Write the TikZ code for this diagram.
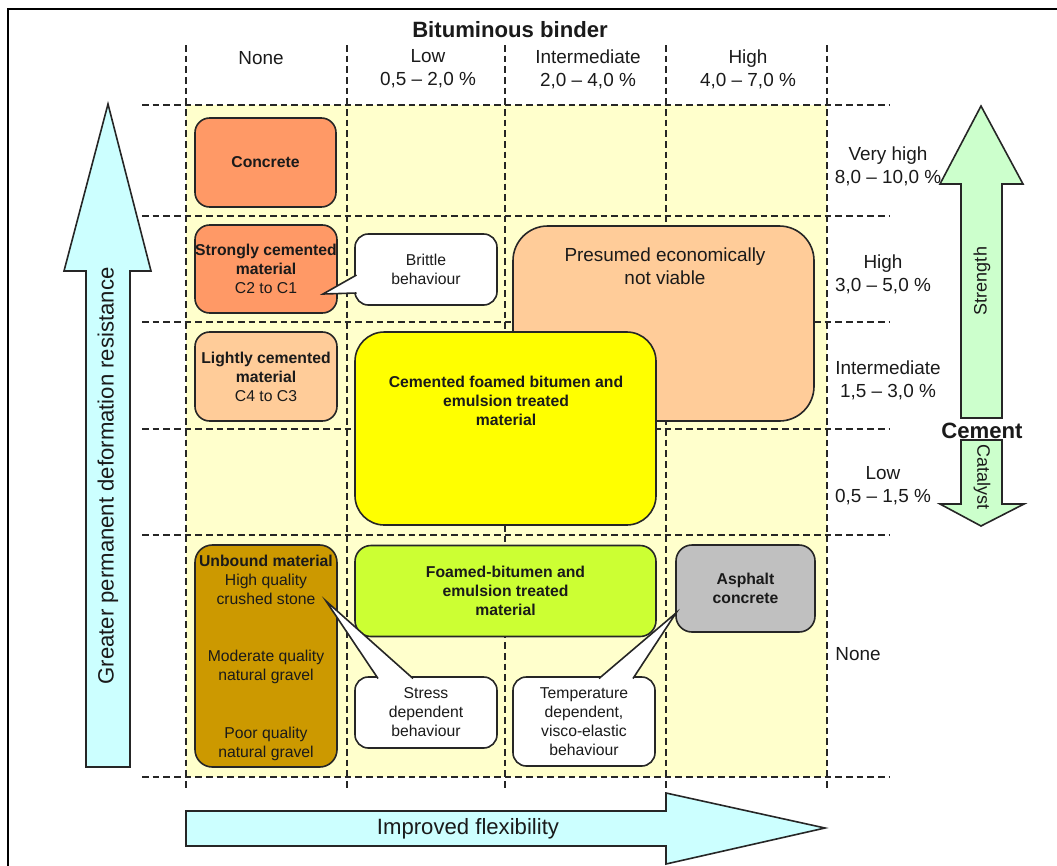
\documentclass[tikz,border=0pt]{standalone}
\usepackage{fontspec}
\setmainfont{Liberation Sans}
\definecolor{bgyellow}{HTML}{FFFFCC}
\definecolor{corange}{HTML}{FF9966}
\definecolor{cpeach}{HTML}{FFCC99}
\definecolor{cyellow}{HTML}{FFFF00}
\definecolor{clime}{HTML}{CCFF33}
\definecolor{cbrown}{HTML}{CC9900}
\definecolor{cgrey}{HTML}{C0C0C0}
\definecolor{ccyan}{HTML}{CCFFFF}
\definecolor{cgreen}{HTML}{CCFFCC}
\definecolor{txt}{HTML}{1A1A1A}
\begin{document}
\begin{tikzpicture}[x=0.75pt,y=-0.75pt,
  gridline/.style={line width=1.1pt, dash pattern=on 5pt off 3pt, black!85},
  mbox/.style 2 args={draw=black!85, line width=1.2pt, minimum width=#1*0.75pt, minimum height=#2*0.75pt, inner sep=0pt, align=center, text=txt, font=\fontsize{11.8}{14.3}\selectfont},
  lbl/.style={align=center, inner sep=0pt, text=txt, font=\fontsize{14.2}{17.25}\selectfont},
  btxt/.style={align=center, inner sep=0pt, text=txt, font=\bfseries\fontsize{11.8}{14.3}\selectfont},
  stxt/.style={align=center, inner sep=0pt, text=txt, font=\fontsize{11.8}{14.3}\selectfont},
  bigtxt/.style={inner sep=0pt, text=txt, font=\fontsize{16.6}{19}\selectfont},
  arrowshape/.style={draw=black!85, line width=1.2pt, line join=miter},
  tail/.style={draw=black!85, line width=1.2pt, fill=white, line join=miter}
]
\useasboundingbox (0,0) rectangle (1057,865);
% frame
\draw[line width=1.6pt] (8,870) -- (8,9) -- (1062,9);
% background and grid
\fill[bgyellow] (186,105) rectangle (827,777);
\foreach \x in {186,347,505,666,827} \draw[gridline] (\x,45) -- (\x,790);
\foreach \y in {105,216,322,429,535,777} \draw[gridline] (142,\y) -- (890,\y);

% headers
\node[bigtxt, font=\bfseries\fontsize{16.6}{19}\selectfont] (title) at (510,30) {Bituminous binder};
\node[lbl] (hnone) at (261,58) {None};
\node[lbl] (hlow) at (428,69) {Low\\0,5 -- 2,0 \%};
\node[lbl] (hint) at (588,69) {Intermediate\\2,0 -- 4,0 \%};
\node[lbl] (hhigh) at (748,69) {High\\4,0 -- 7,0 \%};

% right labels
\node[lbl] (rvh) at (888,166) {Very high\\8,0 -- 10,0 \%};
\node[lbl] (rh) at (883,274) {High\\3,0 -- 5,0 \%};
\node[lbl] (ri) at (888,380) {Intermediate\\1,5 -- 3,0 \%};
\node[lbl] (rl) at (883,486) {Low\\0,5 -- 1,5 \%};
\node[lbl] (rn) at (858,654) {None};

% boxes
\node[mbox={301}{195}, fill=cpeach, rounded corners=26pt] (presumed) at (663.5,323.5) {};
\node[lbl] (presumedT) at (665,266) {Presumed economically\\not viable};
\node[mbox={301}{193}, fill=cyellow, rounded corners=22pt] (cemfoam) at (505.5,428.5) {};
\node[btxt] (cemfoamT) at (506,401) {Cemented foamed bitumen and\\emulsion treated\\material};
\node[mbox={141}{89}, fill=corange, rounded corners=11pt] (concrete) at (265.5,162.5) {\bfseries Concrete};
\node[mbox={142}{88}, fill=corange, rounded corners=11pt] (strong) at (266,269) {\textbf{Strongly cemented}\\\textbf{material}\\C2 to C1};
\node[mbox={142}{89}, fill=cpeach, rounded corners=11pt] (light) at (266,376.5) {\textbf{Lightly cemented}\\\textbf{material}\\C4 to C3};
\node[mbox={142}{222}, fill=cbrown, rounded corners=13pt] (unbound) at (266,656) {};
\node[btxt] (unboundT) at (266,561) {Unbound material};
\node[stxt] (unb1) at (266,589.5) {High quality\\crushed stone};
\node[stxt] (unb2) at (266,667) {Moderate quality\\natural gravel};
\node[stxt] (unb3) at (266,743.5) {Poor quality\\natural gravel};
\node[mbox={301}{91}, fill=clime, rounded corners=12pt] (foamed) at (505.5,591) {\bfseries Foamed-bitumen and\\\bfseries emulsion treated\\\bfseries material};
\node[mbox={139}{87}, fill=cgrey, rounded corners=12pt] (asphalt) at (745.5,588.5) {\bfseries Asphalt\\\bfseries concrete};

% callouts
\node[mbox={142}{71}, fill=white, rounded corners=10pt] (brittle) at (426,269.5) {Brittle\\behaviour};
\draw[tail] (356.5,275) -- (323,294) -- (356.5,293);
\node[mbox={142}{71}, fill=white, rounded corners=10pt] (stress) at (426,712.5) {Stress\\dependent\\behaviour};
\draw[tail] (378,678.5) -- (326,601) -- (413,678.5);
\node[mbox={142}{89}, fill=white, rounded corners=10pt] (temp) at (584,721.5) {Temperature\\dependent,\\visco-elastic\\behaviour};
\draw[tail] (599,678.5) -- (676,613) -- (633,678.5);

% left arrow
\draw[arrowshape, fill=ccyan] (86,767) -- (86,271) -- (64,271) -- (108,104) -- (151,271) -- (130,271) -- (130,767) -- cycle;
\node[bigtxt, rotate=90] (gpdr) at (108,476) {Greater permanent deformation resistance};

% bottom arrow
\draw[arrowshape, fill=ccyan] (186,811) -- (666,811) -- (666,793) -- (825,828) -- (666,864) -- (666,846) -- (186,846) -- cycle;
\node[bigtxt] (flex) at (468,829) {Improved flexibility};

% cement arrows
\draw[arrowshape, fill=cgreen] (961,418) -- (961,184) -- (940,184) -- (981,106) -- (1023,184) -- (1002,184) -- (1002,418) -- cycle;
\node[stxt, font=\fontsize{13.5}{16}\selectfont, rotate=90] (strength) at (982,281) {Strength};
\node[bigtxt, font=\bfseries\fontsize{16.6}{19}\selectfont] (cement) at (982,431) {Cement};
\draw[arrowshape, fill=cgreen] (961,440) -- (1002,440) -- (1002,504) -- (1024,504) -- (981,526) -- (940,504) -- (961,504) -- cycle;
\node[stxt, font=\fontsize{13.5}{16}\selectfont, rotate=-90] (catalyst) at (982,477) {Catalyst};
\end{tikzpicture}
\end{document}
